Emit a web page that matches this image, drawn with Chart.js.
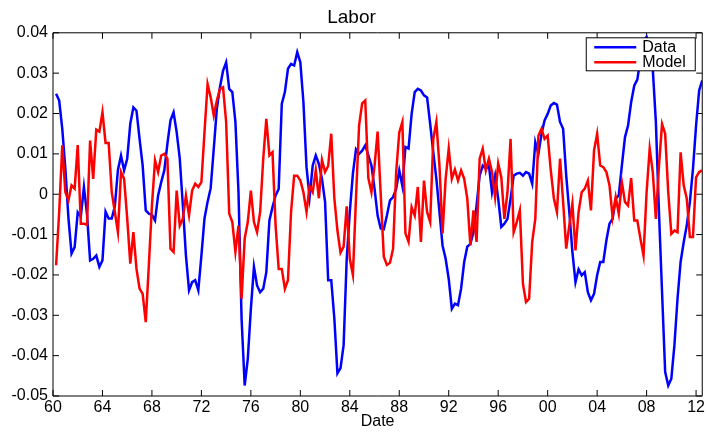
<!DOCTYPE html>
<html>
<head>
<meta charset="utf-8">
<title>Labor</title>
<script src="https://cdn.jsdelivr.net/npm/chart.js@4.4.1/dist/chart.umd.min.js"></script>
<style>
  html, body { margin: 0; padding: 0; background: #fff; }
  #wrap { width: 707px; height: 432px; }
</style>
</head>
<body>
<div id="wrap"><canvas id="labor" width="707" height="432"></canvas></div>
<script>
  // quarterly observations, first one at 1960.25
  const START_YEAR = 1960.25;
  const STEP = 0.25;

  // Data (blue)
  const dataLabor = [
    0.0249, 0.0232, 0.0162, 0.0063, -0.0060, -0.0147, -0.0131, -0.0045, -0.0055, 0.0018,
    -0.0050, -0.0164, -0.0160, -0.0152, -0.0180, -0.0164, -0.0043, -0.0060, -0.0060, -0.0030,
    0.0060, 0.0096, 0.0059, 0.0088, 0.0175, 0.0215, 0.0207, 0.0137, 0.0071, -0.0040,
    -0.0048, -0.0051, -0.0065, -0.0003, 0.0030, 0.0059, 0.0125, 0.0183, 0.0203, 0.0154,
    0.0088, -0.0028, -0.0152, -0.0238, -0.0218, -0.0213, -0.0238, -0.0152, -0.0060, -0.0019,
    0.0015, 0.0113, 0.0212, 0.0265, 0.0306, 0.0327, 0.0261, 0.0253, 0.0179, 0.0005,
    -0.0309, -0.0474, -0.0408, -0.0284, -0.0180, -0.0226, -0.0243, -0.0234, -0.0193, -0.0065,
    -0.0032, -0.0003, 0.0013, 0.0224, 0.0253, 0.0311, 0.0323, 0.0319, 0.0352, 0.0327,
    0.0228, 0.0067, -0.0007, 0.0071, 0.0096, 0.0075, 0.0038, -0.0019, -0.0213, -0.0213,
    -0.0308, -0.0444, -0.0431, -0.0374, -0.0160, -0.0044, 0.0051, 0.0111, 0.0100, 0.0108,
    0.0121, 0.0096, 0.0071, 0.0014, -0.0053, -0.0085, -0.0087, -0.0053, -0.0015, -0.0007,
    0.0013, 0.0059, 0.0021, 0.0117, 0.0113, 0.0199, 0.0253, 0.0261, 0.0257, 0.0245,
    0.0240, 0.0174, 0.0104, 0.0038, -0.0044, -0.0127, -0.0160, -0.0210, -0.0284, -0.0271,
    -0.0275, -0.0234, -0.0168, -0.0130, -0.0123, -0.0094, -0.0028, 0.0046, 0.0071, 0.0063,
    0.0071, 0.0005, 0.0046, -0.0011, -0.0081, -0.0073, -0.0061, -0.0011, 0.0046, 0.0051,
    0.0053, 0.0046, 0.0055, 0.0051, 0.0026, 0.0129, 0.0100, 0.0149, 0.0183, 0.0199,
    0.0220, 0.0226, 0.0222, 0.0179, 0.0162, 0.0046, -0.0044, -0.0143, -0.0218, -0.0186,
    -0.0201, -0.0193, -0.0243, -0.0263, -0.0247, -0.0201, -0.0168, -0.0168, -0.0114, -0.0073,
    -0.0061, -0.0011, -0.0003, 0.0071, 0.0141, 0.0170, 0.0228, 0.0269, 0.0284, 0.0335,
    0.0380, 0.0390, 0.0370, 0.0310, 0.0179, -0.0044, -0.0243, -0.0440, -0.0474, -0.0457,
    -0.0374, -0.0259, -0.0168, -0.0119, -0.0077, -0.0019, 0.0063, 0.0170, 0.0257, 0.0282
  ];

  // Model (red)
  const modelLabor = [
    -0.0176, -0.0044, 0.0121, 0.0005, -0.0015, 0.0022, 0.0014, 0.0122, -0.0073, -0.0073,
    -0.0076, 0.0133, 0.0038, 0.0160, 0.0155, 0.0203, 0.0127, 0.0127, 0.0005, -0.0044,
    -0.0094, 0.0055, 0.0038, -0.0060, -0.0172, -0.0094, -0.0185, -0.0234, -0.0247, -0.0317,
    -0.0176, -0.0028, 0.0084, 0.0055, 0.0096, 0.0100, 0.0088, -0.0135, -0.0143, 0.0009,
    -0.0078, -0.0061, -0.0003, -0.0052, 0.0009, 0.0026, 0.0018, 0.0030, 0.0154, 0.0273,
    0.0240, 0.0195, 0.0232, 0.0261, 0.0265, 0.0179, -0.0048, -0.0069, -0.0143, -0.0078,
    -0.0259, -0.0110, -0.0069, 0.0009, -0.0069, -0.0094, -0.0044, 0.0088, 0.0187, 0.0096,
    0.0104, -0.0078, -0.0185, -0.0185, -0.0234, -0.0213, -0.0044, 0.0046, 0.0046, 0.0034,
    0.0005, -0.0044, 0.0020, 0.0005, 0.0060, -0.0010, 0.0085, 0.0055, 0.0070, 0.0150,
    -0.0010, -0.0090, -0.0145, -0.0130, -0.0030, -0.0160, -0.0200, -0.0010, 0.0170, 0.0225,
    0.0232, 0.0040, 0.0005, 0.0070, 0.0155, 0.0000, -0.0155, -0.0175, -0.0170, -0.0135,
    0.0055, 0.0153, 0.0179, -0.0097, -0.0118, -0.0032, -0.0053, 0.0018, -0.0118, 0.0034,
    -0.0044, -0.0069, 0.0137, 0.0179, 0.0071, -0.0097, 0.0038, 0.0113, 0.0038, 0.0061,
    0.0034, 0.0059, 0.0038, -0.0011, -0.0127, -0.0040, -0.0118, 0.0088, 0.0113, 0.0059,
    0.0088, 0.0055, -0.0007, 0.0076, 0.0042, -0.0061, 0.0005, 0.0137, -0.0094, -0.0069,
    -0.0040, -0.0222, -0.0267, -0.0259, -0.0118, -0.0061, 0.0145, 0.0162, 0.0137, 0.0145,
    0.0060, -0.0010, -0.0044, 0.0088, -0.0019, -0.0135, -0.0077, -0.0023, -0.0139, -0.0044,
    0.0005, 0.0014, 0.0034, -0.0040, 0.0108, 0.0150, 0.0071, 0.0067, 0.0055, 0.0022,
    -0.0056, -0.0007, -0.0048, 0.0030, -0.0019, -0.0028, 0.0040, -0.0065, -0.0065, -0.0110,
    -0.0152, 0.0005, 0.0113, 0.0055, -0.0061, 0.0071, 0.0174, 0.0150, 0.0005, -0.0098,
    -0.0090, -0.0094, 0.0104, 0.0022, -0.0011, -0.0106, -0.0106, 0.0042, 0.0055, 0.0059
  ];

  const xTickYears  = [1960, 1964, 1968, 1972, 1976, 1980, 1984, 1988, 1992, 1996, 2000, 2004, 2008, 2012];
  const xTickLabels = ['60', '64', '68', '72', '76', '80', '84', '88', '92', '96', '00', '04', '08', '12'];
  const yTickValues = [-0.05, -0.04, -0.03, -0.02, -0.01, 0, 0.01, 0.02, 0.03, 0.04];
  const yTickLabels = ['-0.05', '-0.04', '-0.03', '-0.02', '-0.01', '0', '0.01', '0.02', '0.03', '0.04'];

  const FONT = 'Arial, "Liberation Sans", Helvetica, sans-serif';

  function toPoints(arr) {
    return arr.map((v, k) => ({ x: START_YEAR + k * STEP, y: v }));
  }

  // matlab style box with inward ticks on all four sides
  const axesBox = {
    id: 'axesBox',
    beforeDatasetsDraw(chart) {
      const { ctx, chartArea: a, scales: { x, y } } = chart;
      ctx.save();
      ctx.strokeStyle = '#000';
      ctx.lineWidth = 1;
      ctx.beginPath();
      ctx.rect(a.left, a.top, a.right - a.left, a.bottom - a.top);
      xTickYears.forEach(v => {
        const px = x.getPixelForValue(v);
        ctx.moveTo(px, a.bottom); ctx.lineTo(px, a.bottom - 6);
        ctx.moveTo(px, a.top);    ctx.lineTo(px, a.top + 6);
      });
      yTickValues.forEach(v => {
        const py = y.getPixelForValue(v);
        ctx.moveTo(a.left, py);  ctx.lineTo(a.left + 6, py);
        ctx.moveTo(a.right, py); ctx.lineTo(a.right - 6, py);
      });
      ctx.stroke();
      ctx.restore();
    }
  };

  // legend box in the upper right corner of the axes
  const boxLegend = {
    id: 'boxLegend',
    afterDraw(chart) {
      const { ctx, chartArea: a } = chart;
      const left = a.right - 116, top = a.top + 5;
      const w = 109, h = 33;
      ctx.save();
      ctx.fillStyle = '#fff';
      ctx.strokeStyle = '#000';
      ctx.lineWidth = 1;
      ctx.fillRect(left, top, w, h);
      ctx.strokeRect(left, top, w, h);
      ctx.font = '16px ' + FONT;
      ctx.textBaseline = 'middle';
      chart.data.datasets.forEach((ds, i) => {
        const yy = top + 9.5 + i * 15;
        ctx.strokeStyle = ds.borderColor;
        ctx.lineWidth = 2.5;
        ctx.beginPath();
        ctx.moveTo(left + 8, yy);
        ctx.lineTo(left + 50, yy);
        ctx.stroke();
        ctx.fillStyle = '#000';
        ctx.fillText(ds.label, left + 56, yy);
      });
      ctx.restore();
    }
  };

  new Chart(document.getElementById('labor'), {
    type: 'line',
    data: {
      datasets: [
        {
          label: 'Data',
          data: toPoints(dataLabor),
          borderColor: '#0000ff',
          borderWidth: 2.5,
          pointRadius: 0,
          tension: 0,
          order: 2
        },
        {
          label: 'Model',
          data: toPoints(modelLabor),
          borderColor: '#ff0000',
          borderWidth: 2.5,
          pointRadius: 0,
          tension: 0,
          order: 1
        }
      ]
    },
    options: {
      responsive: false,
      animation: false,
      devicePixelRatio: 1,
      layout: { padding: { left: 0, right: 4, top: 0, bottom: 0 } },
      plugins: {
        legend: { display: false },
        tooltip: { enabled: false },
        title: {
          display: true,
          text: 'Labor',
          color: '#000',
          font: { family: FONT, size: 19, weight: 'normal' },
          padding: { top: 6, bottom: 4 }
        }
      },
      scales: {
        x: {
          type: 'linear',
          min: 1960,
          max: 2012.5,
          grid: { display: false, drawTicks: false },
          border: { display: false },
          afterBuildTicks: s => { s.ticks = xTickYears.map(v => ({ value: v })); },
          afterFit: s => { s.height = 36; },
          ticks: {
            color: '#000',
            font: { family: FONT, size: 16 },
            padding: 2,
            maxRotation: 0,
            autoSkip: false,
            callback: (v, i) => xTickLabels[i]
          },
          title: {
            display: true,
            text: 'Date',
            color: '#000',
            font: { family: FONT, size: 16 },
            padding: { top: 0, bottom: 1 }
          }
        },
        y: {
          min: -0.05,
          max: 0.04,
          grid: { display: false, drawTicks: false },
          border: { display: false },
          afterBuildTicks: s => { s.ticks = yTickValues.map(v => ({ value: v })); },
          afterFit: s => { s.width = 53; },
          ticks: {
            color: '#000',
            font: { family: FONT, size: 16 },
            padding: 5,
            autoSkip: false,
            callback: (v, i) => yTickLabels[i]
          }
        }
      }
    },
    plugins: [axesBox, boxLegend]
  });
</script>
</body>
</html>
